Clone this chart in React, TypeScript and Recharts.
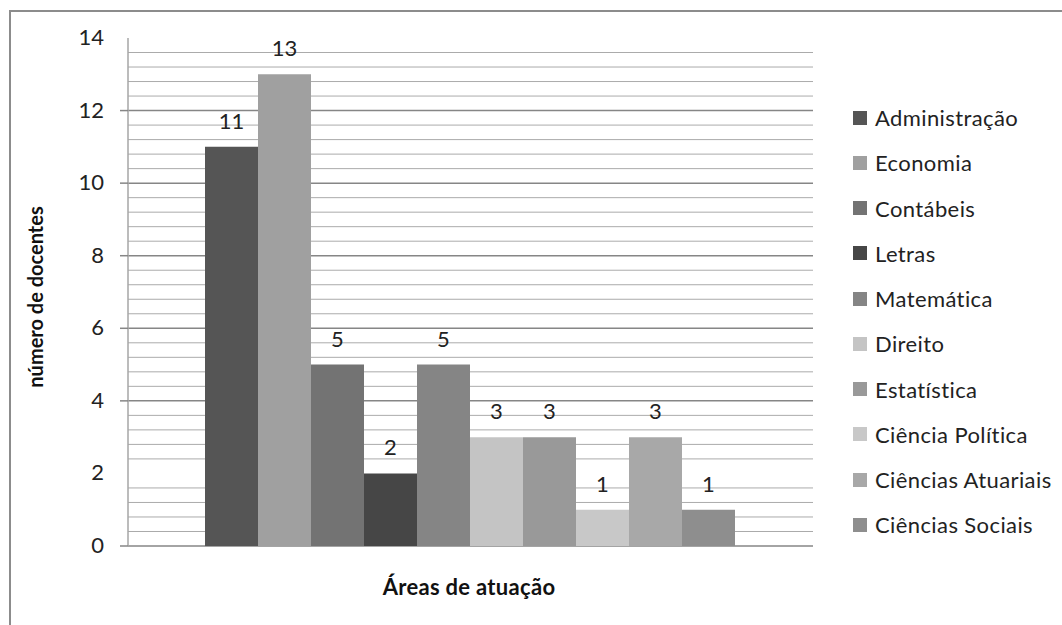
import React from "react";
import {
  BarChart,
  Bar,
  XAxis,
  YAxis,
  CartesianGrid,
  Legend,
  LabelList,
} from "recharts";

const areas = [
  "Administração",
  "Economia",
  "Contábeis",
  "Letras",
  "Matemática",
  "Direito",
  "Estatística",
  "Ciência Política",
  "Ciências Atuariais",
  "Ciências Sociais",
];

const docentes = [11, 13, 5, 2, 5, 3, 3, 1, 3, 1];

const barColors = [
  "#555555",
  "#a0a0a0",
  "#737373",
  "#464646",
  "#858585",
  "#c4c4c4",
  "#999999",
  "#c8c8c8",
  "#a8a8a8",
  "#8e8e8e",
];

const yTicks = [0, 2, 4, 6, 8, 10, 12, 14];
const majorGrid = [0, 4, 6, 8, 10, 12];
const minorGrid = [
  0.4, 0.8, 1.2, 1.6, 2.4, 2.8, 3.2, 3.6, 4.4, 4.8, 5.2, 5.6, 6.4, 6.8, 7.2,
  7.6, 8.4, 8.8, 9.2, 9.6, 10.4, 10.8, 11.2, 11.6, 12.4, 12.8, 13.2, 13.6,
];

const categoryLabel = "";
const xTitle = "Áreas de atuação";
const yTitle = "número de docentes";

const data = [
  areas.reduce(
    (row: Record<string, any>, a, i) => {
      row[a] = docentes[i];
      return row;
    },
    { name: categoryLabel } as Record<string, any>
  ),
];

const FONT = "Lato, 'Open Sans', sans-serif";

const TICK_MARGIN = 16;
const TICK_SIZE = 8;

const YTick = (props: any) => {
  const { x, y, payload } = props;
  const v = payload.value;
  const showLine = majorGrid.includes(v);
  return (
    <g>
      {showLine && (
        <line
          x1={x + TICK_MARGIN}
          x2={x + TICK_MARGIN + TICK_SIZE}
          y1={y}
          y2={y}
          stroke="#868686"
          strokeWidth={1.5}
        />
      )}
      <text
        x={x}
        y={y}
        dy={7}
        textAnchor="end"
        fontSize={22}
        fill="#222"
        fontFamily={FONT}
      >
        {v}
      </text>
    </g>
  );
};

const LegendContent = (props: any) => {
  const payload = props.payload || [];
  const ordered = areas
    .map((a) => payload.find((p: any) => p.value === a))
    .filter(Boolean);
  return (
    <div style={{ fontFamily: FONT }}>
      {ordered.map((p: any) => (
        <div
          key={p.value}
          style={{
            height: 45.25,
            display: "flex",
            alignItems: "center",
            whiteSpace: "nowrap",
          }}
        >
          <span
            style={{
              display: "inline-block",
              width: 14,
              height: 14,
              background: p.color,
              marginRight: 8,
            }}
          />
          <span style={{ fontSize: 22, letterSpacing: 0.4, color: "#222" }}>
            {p.value}
          </span>
        </div>
      ))}
    </div>
  );
};

export default function App() {
  return (
    <div
      style={{
        position: "absolute",
        left: 0,
        top: 0,
        width: 1062,
        height: 625,
        overflow: "hidden",
        background: "#fff",
      }}
    >
      <div
        style={{
          position: "absolute",
          left: 9,
          top: 10,
          width: 1100,
          height: 700,
          border: "2px solid #8c8c8c",
        }}
      />
      <div style={{ position: "absolute", left: 0, top: 0 }}>
        <BarChart
          width={1062}
          height={625}
          data={data}
          margin={{ top: 38, right: 249, bottom: 79, left: 0 }}
          barCategoryGap={77}
          barGap={0}
        >
          <CartesianGrid
            horizontalValues={minorGrid}
            vertical={false}
            stroke="#ababab"
            strokeWidth={1}
          />
          <CartesianGrid
            horizontalValues={majorGrid}
            vertical={false}
            stroke="#868686"
            strokeWidth={1.5}
          />
          <XAxis dataKey="name" hide />
          <YAxis
            width={128}
            domain={[0, 14]}
            ticks={yTicks}
            interval={0}
            tickLine={false}
            tickSize={TICK_SIZE}
            tickMargin={TICK_MARGIN}
            axisLine={{ stroke: "#a6a6a6", strokeWidth: 1.5 }}
            tick={<YTick />}
          />
          <Legend
            layout="vertical"
            align="center"
            verticalAlign="middle"
            wrapperStyle={{ left: 853, top: 95, width: 209 }}
            content={<LegendContent />}
          />
          {areas.map((a, i) => (
            <Bar
              key={a}
              dataKey={a}
              name={a}
              fill={barColors[i]}
              isAnimationActive={false}
            >
              <LabelList
                dataKey={a}
                position="top"
                offset={18}
                fontSize={22}
                fill="#222"
                fontFamily={FONT}
              />
            </Bar>
          ))}
        </BarChart>
      </div>
      <div
        style={{
          position: "absolute",
          left: 469,
          top: 586,
          transform: "translate(-50%, -50%)",
          fontFamily: FONT,
          fontWeight: 700,
          fontSize: 22,
          letterSpacing: 0.3,
          color: "#111",
          whiteSpace: "nowrap",
        }}
      >
        {xTitle}
      </div>
      <div
        style={{
          position: "absolute",
          left: 35,
          top: 297,
          transform: "translate(-50%, -50%) rotate(-90deg)",
          fontFamily: FONT,
          fontWeight: 700,
          fontSize: 20,
          color: "#111",
          whiteSpace: "nowrap",
        }}
      >
        {yTitle}
      </div>
    </div>
  );
}
